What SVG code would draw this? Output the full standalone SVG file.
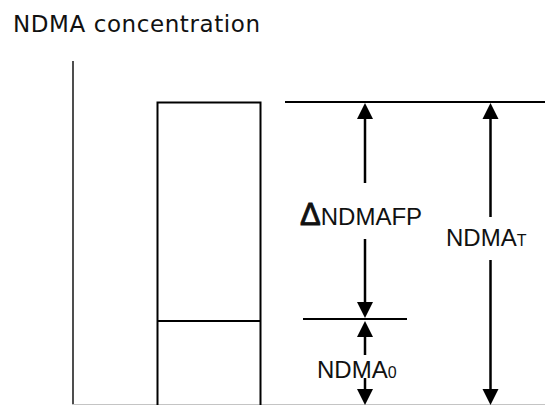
<svg xmlns="http://www.w3.org/2000/svg" width="545" height="405" viewBox="0 0 545 405">
<style>
.title{font-family:"DejaVu Sans","Open Sans",sans-serif;font-size:23px;fill:#111}
.lbl{font-family:"Liberation Sans",Arial,sans-serif;font-size:24px;fill:#111}
.sub{font-size:16px}
.ln{stroke:#000;stroke-width:2;fill:none}
.stem{stroke:#000;stroke-width:2.5;fill:none}
.head{fill:#000}
</style>
<rect width="545" height="405" fill="#fff"/>
<g id="title"><text class="title" x="13" y="32" textLength="247" lengthAdjust="spacing">NDMA concentration</text></g>
<g id="axes">
<line x1="73" y1="61" x2="73" y2="405" stroke="#222" stroke-width="1.6"/>
<line x1="72" y1="404.5" x2="545" y2="404.5" stroke="#c4c4c4" stroke-width="1"/>
</g>
<g id="bar">
<path class="ln" d="M157.5,406 V102.5 H260.5 V406"/>
<line class="ln" x1="157.5" y1="321" x2="260.5" y2="321"/>
</g>
<g id="levels">
<line class="ln" x1="285" y1="102" x2="545" y2="102"/>
<line class="ln" x1="303" y1="319" x2="407" y2="319"/>
</g>
<g id="connectors">
<line class="stem" x1="365" y1="117" x2="365" y2="183"/>
<polygon class="head" points="365,103 357,119 373,119"/>
<line class="stem" x1="365" y1="239" x2="365" y2="305"/>
<polygon class="head" points="365,318 357,302 373,302"/>
<line class="stem" x1="365" y1="334" x2="365" y2="355"/>
<polygon class="head" points="365,321 357,337 373,337"/>
<line class="stem" x1="365" y1="378" x2="365" y2="392"/>
<polygon class="head" points="365,405 357,389 373,389"/>
<line class="stem" x1="490.5" y1="117" x2="490.5" y2="217"/>
<polygon class="head" points="490.5,103 482.5,119 498.5,119"/>
<line class="stem" x1="490.5" y1="260" x2="490.5" y2="391"/>
<polygon class="head" points="490.5,405 482.5,389 498.5,389"/>
</g>
<g id="label-dndmafp"><text class="lbl" x="300" y="225"><tspan font-size="31" stroke="#111" stroke-width="0.9">Δ</tspan>NDMAFP</text></g>
<g id="label-ndmat"><text class="lbl" x="446" y="246">NDMA<tspan class="sub">T</tspan></text></g>
<g id="label-ndma0"><text class="lbl" x="317" y="378">NDMA<tspan class="sub">0</tspan></text></g>
</svg>
